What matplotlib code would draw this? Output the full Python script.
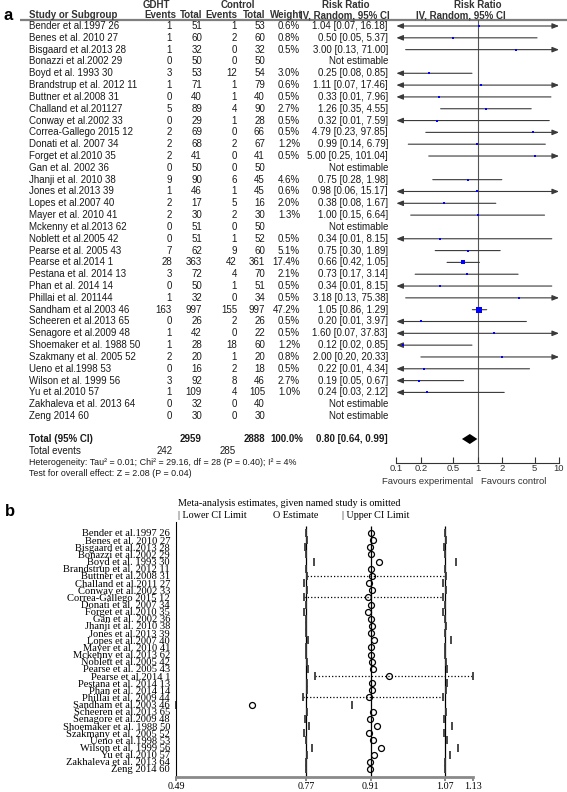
import numpy as np
import matplotlib.pyplot as plt

plt.rcParams['font.family'] = ['Liberation Sans', 'DejaVu Sans']

W, H = 567, 792
SERIF = ['Liberation Serif', 'DejaVu Serif']

# ---- panel a: forest plot data ----
studies_a = [
    'Bender et al.1997 26', 'Benes et al. 2010 27', 'Bisgaard et al.2013 28', 'Bonazzi et al.2002 29',
    'Boyd et al. 1993 30', 'Brandstrup et al. 2012 11', 'Buttner et al.2008 31', 'Challand et al.201127',
    'Conway et al.2002 33', 'Correa-Gallego 2015 12', 'Donati et al. 2007 34', 'Forget et al.2010 35',
    'Gan et al. 2002 36', 'Jhanji et al. 2010 38', 'Jones et al.2013 39', 'Lopes et al.2007 40',
    'Mayer et al. 2010 41', 'Mckenny et al.2013 62', 'Noblett et al.2005 42', 'Pearse et al. 2005 43',
    'Pearse et al.2014 1', 'Pestana et al. 2014 13', 'Phan et al. 2014 14', 'Phillai et al. 201144',
    'Sandham et al.2003 46', 'Scheeren et al.2013 65', 'Senagore et al.2009 48', 'Shoemaker et al. 1988 50',
    'Szakmany et al. 2005 52', 'Ueno et al.1998 53', 'Wilson et al. 1999 56', 'Yu et al.2010 57',
    'Zakhaleva et al. 2013 64', 'Zeng 2014 60',
]
gdht_events = [1, 1, 1, 0, 3, 1, 0, 5, 0, 2, 2, 2, 0, 9, 1, 2, 2, 0, 0, 7, 28, 3, 0, 1, 163, 0, 1, 1, 2, 0, 3, 1, 0, 0]
gdht_total = [51, 60, 32, 50, 53, 71, 40, 89, 29, 69, 68, 41, 50, 90, 46, 17, 30, 51, 51, 62, 363, 72, 50, 32,
              997, 26, 42, 28, 20, 16, 92, 109, 32, 30]
ctrl_events = [1, 2, 0, 0, 12, 1, 1, 4, 1, 0, 2, 0, 0, 6, 1, 5, 2, 0, 1, 9, 42, 4, 1, 0, 155, 2, 0, 18, 1, 2, 8, 4, 0, 0]
ctrl_total = [53, 60, 32, 50, 54, 79, 40, 90, 28, 66, 67, 41, 50, 45, 45, 16, 30, 50, 52, 60, 361, 70, 51, 34,
              997, 26, 22, 60, 20, 18, 46, 105, 40, 30]
nan = np.nan
weight = [0.6, 0.8, 0.5, nan, 3.0, 0.6, 0.5, 2.7, 0.5, 0.5, 1.2, 0.5, nan, 4.6, 0.6, 2.0, 1.3, nan, 0.5, 5.1,
          17.4, 2.1, 0.5, 0.5, 47.2, 0.5, 0.5, 1.2, 0.8, 0.5, 2.7, 1.0, nan, nan]
rr = [1.04, 0.50, 3.00, nan, 0.25, 1.11, 0.33, 1.26, 0.32, 4.79, 0.99, 5.00, nan, 0.75, 0.98, 0.38, 1.00, nan,
      0.34, 0.75, 0.66, 0.73, 0.34, 3.18, 1.05, 0.20, 1.60, 0.12, 2.00, 0.22, 0.19, 0.24, nan, nan]
rr_lo = [0.07, 0.05, 0.13, nan, 0.08, 0.07, 0.01, 0.35, 0.01, 0.23, 0.14, 0.25, nan, 0.28, 0.06, 0.08, 0.15, nan,
         0.01, 0.30, 0.42, 0.17, 0.01, 0.13, 0.86, 0.01, 0.07, 0.02, 0.20, 0.01, 0.05, 0.03, nan, nan]
rr_hi = [16.18, 5.37, 71.00, nan, 0.85, 17.46, 7.96, 4.55, 7.59, 97.85, 6.79, 101.04, nan, 1.98, 15.17, 1.67,
         6.64, nan, 8.15, 1.89, 1.05, 3.14, 8.15, 75.38, 1.29, 3.97, 37.83, 0.85, 20.33, 4.34, 0.67, 2.12, nan, nan]

total_gdht, total_ctrl = 2959, 2888
events_gdht, events_ctrl = 242, 285
pooled_rr, pooled_lo, pooled_hi = 0.80, 0.64, 0.99
het_text = 'Heterogeneity: Tau\u00b2 = 0.01; Chi\u00b2 = 29.16, df = 28 (P = 0.40); I\u00b2 = 4%'
test_text = 'Test for overall effect: Z = 2.08 (P = 0.04)'
forest_ticks = [0.1, 0.2, 0.5, 1, 2, 5, 10]
forest_ticklabels = ['0.1', '0.2', '0.5', '1', '2', '5', '10']

# ---- panel b: leave-one-out data ----
studies_b = [
    'Bender et al.1997 26', 'Benes et al. 2010 27', 'Bisgaard et al.2013 28', 'Bonazzi et al.2002 29',
    'Boyd et al. 1993 30', 'Brandstrup et al. 2012 11', 'Buttner et al.2008 31', 'Challand et al.2011 27',
    'Conway et al.2002 33', 'Correa-Gallego 2015 12', 'Donati et al. 2007 34', 'Forget et al.2010 35',
    'Gan et al. 2002 36', 'Jhanji et al. 2010 38', 'Jones et al.2013 39', 'Lopes et al.2007 40',
    'Mayer et al. 2010 41', 'Mckenny et al.2013 62', 'Noblett et al.2005 42', 'Pearse et al. 2005 43',
    'Pearse et al.2014 1', 'Pestana et al. 2014 13', 'Phan et al. 2014 14', 'Phillai et al. 2009 44',
    'Sandham et al.2003 46', 'Scheeren et al.2013 65', 'Senagore et al.2009 48', 'Shoemaker et al. 1988 50',
    'Szakmany et al. 2005 52', 'Ueno et al.1998 53', 'Wilson et al. 1999 56', 'Yu et al.2010 57',
    'Zakhaleva et al. 2013 64', 'Zeng 2014 60',
]
b_lower = [0.771, 0.772, 0.769, 0.770, 0.787, 0.770, 0.772, 0.766, 0.772, 0.766, 0.770, 0.766, 0.770, 0.771,
           0.770, 0.775, 0.770, 0.770, 0.772, 0.774, 0.790, 0.772, 0.772, 0.765, 0.490, 0.773, 0.768, 0.776,
           0.767, 0.770, 0.784, 0.773, 0.770, 0.770]
b_est = [0.910, 0.914, 0.908, 0.910, 0.928, 0.910, 0.912, 0.907, 0.912, 0.905, 0.910, 0.905, 0.910, 0.912,
         0.910, 0.918, 0.910, 0.910, 0.912, 0.915, 0.949, 0.912, 0.912, 0.907, 0.653, 0.914, 0.908, 0.923,
         0.907, 0.914, 0.932, 0.917, 0.908, 0.908]
b_upper = [1.071, 1.073, 1.068, 1.070, 1.094, 1.070, 1.072, 1.066, 1.072, 1.066, 1.070, 1.067, 1.070, 1.072,
           1.070, 1.083, 1.070, 1.070, 1.072, 1.075, 1.130, 1.075, 1.072, 1.067, 0.869, 1.073, 1.069, 1.085,
           1.069, 1.075, 1.099, 1.080, 1.070, 1.070]
dotted_rows = [6, 9, 20, 23]
b_overall = [0.77, 0.91, 1.07]
b_ticks = [0.49, 0.77, 0.91, 1.07, 1.13]

fig = plt.figure(figsize=(W / 100, H / 100), dpi=100)
fig.patch.set_facecolor('white')

# overlay in pixel coordinates for the table text
bg = fig.add_axes([0, 0, 1, 1])
bg.set_xlim(0, W)
bg.set_ylim(H, 0)
bg.axis('off')

TXT = '#1a1a1a'
FS = 7.0
row_y = 26 + 11.82 * np.arange(len(studies_a))
tot_y = 439

bg.text(3, 15, 'a', fontsize=12, fontweight='bold', va='center', color='black')
for x, s in [(156, 'GDHT'), (237.5, 'Control'), (346, 'Risk Ratio'), (478, 'Risk Ratio')]:
    bg.text(x, 4.5, s, ha='center', va='center', fontsize=FS, fontweight='bold', color='#333')
bg.text(29, 15, 'Study or Subgroup', ha='left', va='center', fontsize=FS, fontweight='bold', color='#333')
for x, s in [(176, 'Events'), (202, 'Total'), (237, 'Events'), (265, 'Total'), (303, 'Weight'),
             (390, 'IV, Random, 95% CI')]:
    bg.text(x, 15, s, ha='right', va='center', fontsize=FS, fontweight='bold', color='#333')
bg.text(461, 15, 'IV, Random, 95% CI', ha='center', va='center', fontsize=FS, fontweight='bold', color='#333')
bg.plot([20, 567], [19.5, 19.5], color='#7f7f7f', lw=1.6, solid_capstyle='butt')

for i, name in enumerate(studies_a):
    y = row_y[i]
    bg.text(29, y, name, ha='left', va='center', fontsize=FS, color=TXT)
    bg.text(172, y, str(gdht_events[i]), ha='right', va='center', fontsize=FS, color=TXT)
    bg.text(202, y, str(gdht_total[i]), ha='right', va='center', fontsize=FS, color=TXT)
    bg.text(237, y, str(ctrl_events[i]), ha='right', va='center', fontsize=FS, color=TXT)
    bg.text(265, y, str(ctrl_total[i]), ha='right', va='center', fontsize=FS, color=TXT)
    if np.isnan(rr[i]):
        bg.text(388, y, 'Not estimable', ha='right', va='center', fontsize=FS, color=TXT)
    else:
        bg.text(300, y, f'{weight[i]:.1f}%', ha='right', va='center', fontsize=FS, color=TXT)
        bg.text(388, y, f'{rr[i]:.2f} [{rr_lo[i]:.2f}, {rr_hi[i]:.2f}]', ha='right', va='center',
                fontsize=FS, color=TXT)

bg.text(29, tot_y, 'Total (95% CI)', ha='left', va='center', fontsize=FS, fontweight='bold', color=TXT)
bg.text(202, tot_y, str(total_gdht), ha='right', va='center', fontsize=FS, fontweight='bold', color=TXT)
bg.text(265, tot_y, str(total_ctrl), ha='right', va='center', fontsize=FS, fontweight='bold', color=TXT)
bg.text(303, tot_y, '100.0%', ha='right', va='center', fontsize=FS, fontweight='bold', color=TXT)
bg.text(388, tot_y, f'{pooled_rr:.2f} [{pooled_lo:.2f}, {pooled_hi:.2f}]', ha='right', va='center',
        fontsize=FS, fontweight='bold', color=TXT)
bg.text(29, 451.5, 'Total events', ha='left', va='center', fontsize=FS, color=TXT)
bg.text(173, 451.5, str(events_gdht), ha='right', va='center', fontsize=FS, color=TXT)
bg.text(236, 451.5, str(events_ctrl), ha='right', va='center', fontsize=FS, color=TXT)
bg.text(29, 462.5, het_text, ha='left', va='center', fontsize=6.4, color=TXT)
bg.text(29, 473, test_text, ha='left', va='center', fontsize=6.4, color=TXT)
bg.text(473, 481, 'Favours experimental', ha='right', va='center', fontsize=6.8, color='#333')
bg.text(481, 481, 'Favours control', ha='left', va='center', fontsize=6.8, color='#333')

# forest plot axes (log scale)
fx0, fx1, fy0, fy1 = 396.4, 559.0, 20, 463
ax = fig.add_axes([fx0 / W, 1 - fy1 / H, (fx1 - fx0) / W, (fy1 - fy0) / H])
ax.set_xscale('log')
ax.set_xlim(0.1, 10)
ax.set_ylim(fy1, fy0)
ax.patch.set_alpha(0)
for s in ['top', 'left', 'right']:
    ax.spines[s].set_visible(False)
ax.spines['bottom'].set_color('#333')
ax.spines['bottom'].set_linewidth(0.8)
ax.set_yticks([])
ax.set_xticks(forest_ticks)
ax.set_xticklabels(forest_ticklabels)
ax.minorticks_off()
ax.tick_params(axis='x', direction='in', length=4, width=0.8, pad=1, labelsize=6.8, colors='#333')
ax.axvline(1, color='#555', lw=0.8, zorder=1)

for i in range(len(studies_a)):
    if np.isnan(rr[i]):
        continue
    y = row_y[i]
    lo, hi = rr_lo[i], rr_hi[i]
    left_arrow, right_arrow = lo < 0.1, hi > 10
    lo_c, hi_c = max(lo, 0.1), min(hi, 10)
    style = ('<|' if left_arrow else '') + '-' + ('|>' if right_arrow else '')
    if left_arrow or right_arrow:
        style += ',head_length=0.5,head_width=0.2'
    ax.annotate('', xy=(hi_c, y), xytext=(lo_c, y), annotation_clip=False,
                arrowprops=dict(arrowstyle=style, color='#3a3a3a', lw=0.8, shrinkA=0, shrinkB=0,
                                mutation_scale=8))
    side_px = max(1.6, np.sqrt(weight[i]))
    ax.scatter([rr[i]], [y], marker='s', s=(side_px * 0.72) ** 2, color='#0000ff', linewidths=0, zorder=3)

d = 5
ax.fill([pooled_lo, pooled_rr, pooled_hi, pooled_rr], [tot_y, tot_y - d, tot_y, tot_y + d],
        color='black', lw=0, zorder=3)

# ---- panel b ----
bg.text(5, 512, 'b', fontsize=12, fontweight='bold', va='center', color='black')
bg.text(178, 504, 'Meta-analysis estimates, given named study is omitted', ha='left', va='center',
        fontsize=7.3, family=SERIF, color='black')
bg.text(178, 516, '| Lower CI Limit', ha='left', va='center', fontsize=7.3, family=SERIF, color='black')
bg.text(273, 516, 'O Estimate', ha='left', va='center', fontsize=7.3, family=SERIF, color='black')
bg.text(342, 516, '| Upper CI Limit', ha='left', va='center', fontsize=7.3, family=SERIF, color='black')

bx0, bx1, by0, by1 = 176, 472.7, 522, 777
bx = fig.add_axes([bx0 / W, 1 - by1 / H, (bx1 - bx0) / W, (by1 - by0) / H])
bx.set_xlim(b_ticks[0], b_ticks[-1])
bx.set_ylim(by1, by0)
bx.patch.set_alpha(0)
bx.spines['top'].set_visible(False)
bx.spines['right'].set_visible(False)
bx.spines['left'].set_color('black')
bx.spines['left'].set_linewidth(0.8)
bx.spines['bottom'].set_color('#8a8a8a')
bx.spines['bottom'].set_linewidth(2)
b_y = 533 + 7.15 * np.arange(len(studies_b))
bx.set_yticks(b_y)
bx.set_yticklabels(studies_b, family=SERIF, fontsize=7.6)
bx.tick_params(axis='y', length=0, pad=4.3)
bx.set_xticks(b_ticks)
bx.set_xticklabels([f'{t:.2f}' for t in b_ticks], family=SERIF, fontsize=7.2)
bx.tick_params(axis='x', direction='out', length=3, width=1.2, color='#777', pad=0.5)

bx.vlines(b_overall, 526, by1, color='black', lw=0.9, zorder=1)
for r in dotted_rows:
    bx.hlines(b_y[r], b_lower[r], b_upper[r], colors='black', linestyles=':', lw=0.9, zorder=2)
bx.plot(b_lower, b_y, ls='none', marker='|', ms=6, mew=1.3, color='#3a3a3a', clip_on=False, zorder=2)
bx.plot(b_upper, b_y, ls='none', marker='|', ms=6, mew=1.3, color='#3a3a3a', clip_on=False, zorder=2)
bx.plot(b_est, b_y, ls='none', marker='o', ms=4.3, mfc='none', mec='black', mew=0.9, clip_on=False, zorder=3)

fig.savefig('out.png', dpi=100, facecolor='white')
